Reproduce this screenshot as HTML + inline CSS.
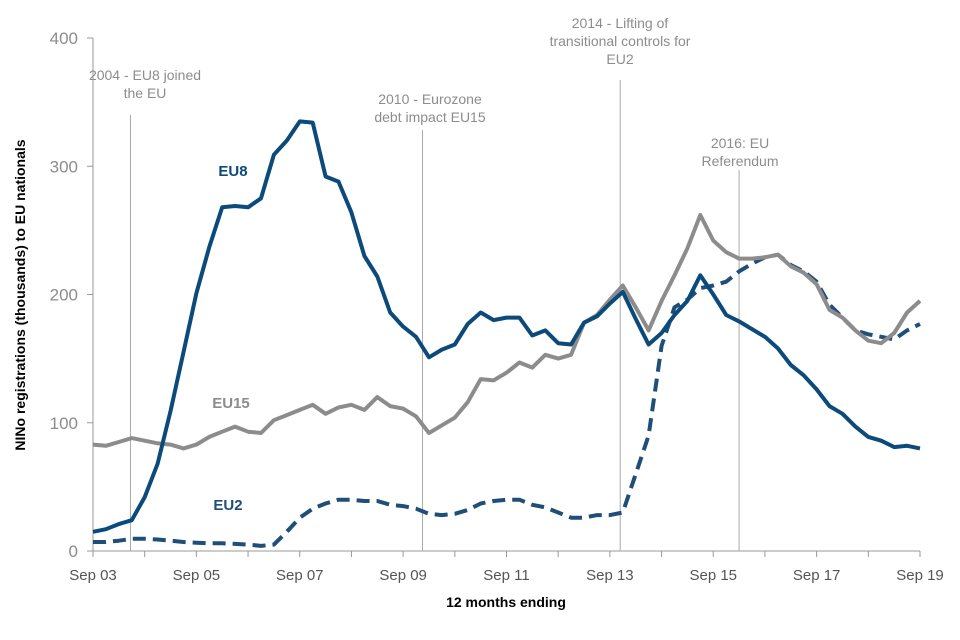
<!DOCTYPE html>
<html><head><meta charset="utf-8"><style>
body{margin:0;background:#fff;}
svg{display:block;font-family:"Liberation Sans",Arial,sans-serif;}
</style></head><body>
<svg id="chart" width="960" height="640" viewBox="0 0 960 640"></svg>
<script>
const eu8=[15,17,21,24,42,68,109,155,201,237,268,269,268,275,309,320,335,334,292,288,264,230,214,186,175,167,151,157,161,177,186,180,182,182,168,172,162,161,178,183,193,202,181,161,170,184,195,215,200,184,179,173,167,158,145,137,126,113,107,97,89,86,81,82,80];
const eu15=[83,82,85,88,86,84,83,80,83,89,93,97,93,90,92,102,106,110,114,107,112,114,110,120,113,111,105,92,98,104,116,134,133,139,147,143,153,150,153,178,184,196,207,190,172,195,215,236,262,242,233,228,228,229,231,222,217,208,188,182,172,164,162,170,186,195];
eu15.splice(13,1);
const eu2=[7,7,8,9.5,9.5,9,8,7,6.5,6,6,5.5,5,4,5,15,26,33,37,40,40,39,39,36,35,33,29,28,29,32,37,39,40,40,36,34,30,26,26,28,28,30,60,90,160,190,196,205,207,210,218,224,229,231,223,218,210,192,182,172,169,167,165,172,177];
const xTicks=["Sep 03","Sep 05","Sep 07","Sep 09","Sep 11","Sep 13","Sep 15","Sep 17","Sep 19"];
const yTicks=[0,100,200,300,400];
const events=[{q:2.9,top:115,lines:["2004 - EU8 joined","the EU"],tx:145,ty:80},
{q:25.5,top:130,lines:["2010 - Eurozone","debt impact EU15"],tx:430,ty:104},
{q:40.8,top:80,lines:["2014 - Lifting of","transitional controls  for","EU2"],tx:620,ty:28},
{q:50,top:170,lines:["2016: EU","Referendum"],tx:740,ty:148}];
const NS="http://www.w3.org/2000/svg";
const svg=document.getElementById('chart');
const x0=93,x1=920,y0=551,y1=38;
const X=q=>x0+q*(x1-x0)/64;
const Y=v=>y0-v*(y0-y1)/400;
function mk(t,a,p){const e=document.createElementNS(NS,t);for(const k in a)e.setAttribute(k,a[k]);(p||svg).appendChild(e);return e;}
let e=mk('line',{x1:x0,y1:y1,x2:x0,y2:y0,stroke:'#999','stroke-width':1});


e=mk('line',{x1:x0,y1:y0,x2:x1,y2:y0,stroke:'#999','stroke-width':1});


yTicks.forEach(v=>{
 let t=mk('line',{x1:x0-6,y1:Y(v),x2:x0,y2:Y(v),stroke:'#999'});
 
 
 let l=mk('text',{x:x0-15,y:Y(v)+6,'text-anchor':'end','font-size':17,fill:'#8c8c8c'});
 l.textContent=v;
 
 
});
for(let i=0;i<=16;i++){
 let t=mk('line',{x1:X(i*4),y1:y0,x2:X(i*4),y2:y0+6,stroke:'#999'});
 
 
}
xTicks.forEach((s,i)=>{
 let l=mk('text',{x:X(i*8),y:580,'text-anchor':'middle','font-size':15,fill:'#555'});
 l.textContent=s;
 
 
});
e=mk('text',{x:506,y:607,'text-anchor':'middle','font-size':14,'font-weight':'bold',fill:'#000'});
e.textContent='12 months ending';


e=mk('text',{x:0,y:0,transform:'translate(25,295) rotate(-90)','text-anchor':'middle','font-size':14,'font-weight':'bold',fill:'#000'});
e.textContent='NINo registrations (thousands) to EU nationals';


events.forEach(ev=>{
 let l=mk('line',{x1:X(ev.q),y1:ev.top,x2:X(ev.q),y2:y0,stroke:'#aaa','stroke-width':1});
 
 
 let t=mk('text',{x:ev.tx,y:ev.ty,'text-anchor':'middle','font-size':14,fill:'#8c8c8c'});
 
 
 ev.lines.forEach((s,i)=>{let ts=mk('tspan',{x:ev.tx,dy:i?18:0},t);ts.textContent=s;});
});
function series(arr,color,dash,name){
 const d=arr.map((v,i)=>(i?'L':'M')+X(i).toFixed(1)+','+Y(v).toFixed(1)).join('');
 const a={d:d,fill:'none',stroke:color,'stroke-width':4,'stroke-linejoin':'round'};
 if(dash)a['stroke-dasharray']=dash;
 const p=mk('path',a);
 
 
}
series(eu2,'#1f4e79','13,7','eu2-line');
series(eu15,'#8c8c8c',null,'eu15-line');
series(eu8,'#0b4a7a',null,'eu8-line');
[['EU8',233,176,'#0b4a7a'],['EU15',231,408,'#8c8c8c'],['EU2',228,510,'#1f4e79']].forEach(l=>{
 let t=mk('text',{x:l[1],y:l[2],'text-anchor':'middle','font-size':15,'font-weight':'bold',fill:l[3]});
 t.textContent=l[0];
 
 
});
</script>
</body></html>
